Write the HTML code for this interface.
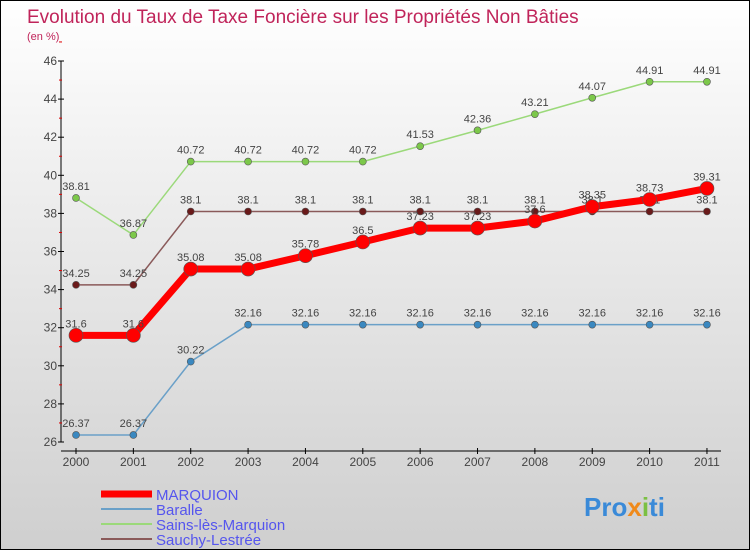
<!DOCTYPE html>
<html><head><meta charset="utf-8"><style>
body{margin:0}
#c{width:748px;height:548px;border:1px solid #000;background:linear-gradient(#fff,#f0f0f0 30%,#cfcfcf);position:relative;font-family:"Liberation Sans",sans-serif}
</style></head><body>
<div id="c">
<svg id="s" width="748" height="548" style="position:absolute;left:0;top:0">
<text x="26" y="22" font-size="19" fill="#c0245a">Evolution du Taux de Taxe Foncière sur les Propriétés Non Bâties</text>
<text x="26" y="39" font-size="11" fill="#c0245a">(en %)</text>
<g id="ax"></g><g id="series"></g><g id="legend"></g>
<text x="583" y="515" font-size="26" font-weight="bold" fill="#3a8ad8">Pro<tspan fill="#f08a1a">x</tspan><tspan fill="#7bc043">i</tspan>ti</text>
</svg></div>
<script>
const years=[2000,2001,2002,2003,2004,2005,2006,2007,2008,2009,2010,2011];
const yTicks=[26,28,30,32,34,36,38,40,42,44,46];
const marquion=[31.6,31.6,35.08,35.08,35.78,36.5,37.23,37.23,37.6,38.35,38.73,39.31];
const baralle=[26.37,26.37,30.22,32.16,32.16,32.16,32.16,32.16,32.16,32.16,32.16,32.16];
const sains=[38.81,36.87,40.72,40.72,40.72,40.72,41.53,42.36,43.21,44.07,44.91,44.91];
const sauchy=[34.25,34.25,38.1,38.1,38.1,38.1,38.1,38.1,38.1,38.1,38.1,38.1];
const names=["MARQUION","Baralle","Sains-lès-Marquion","Sauchy-Lestrée"];
const NS="http://www.w3.org/2000/svg";
const X=i=>75+i*57.36, Y=v=>441-(v-26)*19.05;
function mk(p,t,a){const e=document.createElementNS(NS,t);for(const k in a)e.setAttribute(k,a[k]);p.appendChild(e);return e;}
const ax=document.getElementById('ax');
let e=mk(ax,'line',{x1:60,y1:Y(46),x2:60,y2:Y(26),stroke:'#000'});


e=mk(ax,'line',{x1:60,y1:450,x2:720,y2:450,stroke:'#000'});


yTicks.forEach(v=>{mk(ax,'line',{x1:57,x2:63,y1:Y(v),y2:Y(v),stroke:'#000'});
 mk(ax,'line',{x1:58,x2:61,y1:Y(v+1),y2:Y(v+1),stroke:'#d00'});
 const t=mk(ax,'text',{x:56,y:Y(v)+4,'font-size':12,fill:'#444','text-anchor':'end'});t.textContent=v;
 
 });
years.forEach((y,i)=>{mk(ax,'line',{x1:X(i),x2:X(i),y1:447,y2:453,stroke:'#000'});
 const t=mk(ax,'text',{x:X(i),y:465,'font-size':12,fill:'#444','text-anchor':'middle'});t.textContent=y;
 
 });
const sg=document.getElementById('series');
const defs=[[sains,'#9bd97a','#7cc84a',1.5,3.5,'sains'],[sauchy,'#8a5a5a','#6a1a1a',1.5,3.5,'sauchy'],[baralle,'#6aa0c8','#3a88c0',1.5,3.5,'baralle'],[marquion,'#f00','#f00',7,7,'marquion']];
defs.forEach(([d,lc,pc,w,r,n])=>{
 const l=mk(sg,'polyline',{points:d.map((v,i)=>X(i)+','+Y(v)).join(' '),fill:'none',stroke:lc,'stroke-width':w});
 
 
 d.forEach((v,i)=>{const c=mk(sg,'circle',{cx:X(i),cy:Y(v),r:r,fill:pc,stroke:'#555','stroke-width':0.6});
  
  
  const t=mk(sg,'text',{x:X(i),y:Y(v)-8,'font-size':11,fill:'#444','text-anchor':'middle'});t.textContent=v;
  
  });
});
const lg=document.getElementById('legend');
const lcs=['#f00','#6aa0c8','#9bd97a','#8a5a5a'],lw=[7,2,2,2];
names.forEach((n,i)=>{const y=493+i*15;
 mk(lg,'line',{x1:100,x2:151,y1:y,y2:y,stroke:lcs[i],'stroke-width':lw[i]});
 const t=mk(lg,'text',{x:155,y:y+6,'font-size':15,fill:'#5555ee'});t.textContent=n;
 
 });
</script></body></html>
